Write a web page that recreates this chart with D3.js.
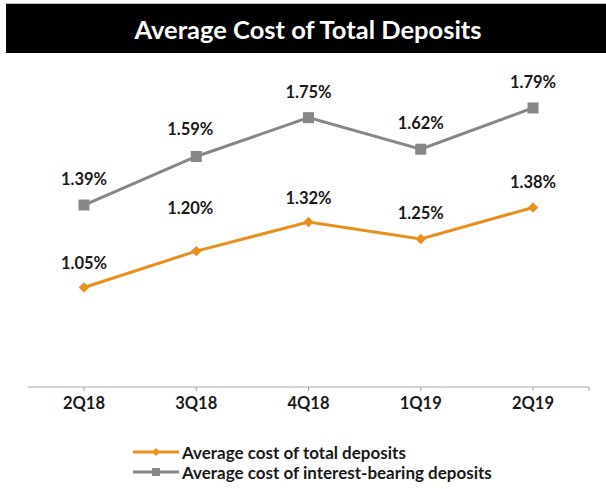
<!DOCTYPE html>
<html>
<head>
<meta charset="utf-8">
<script src="https://cdn.jsdelivr.net/npm/d3@7"></script>
<style>
  html, body { margin: 0; padding: 0; background: #fff; }
  svg { display: block; font-family: Lato, "Open Sans", sans-serif; }
</style>
</head>
<body>
<svg id="chart" width="606" height="489"></svg>
<script>
// Quarterly cost of deposits (%)
const quarters = ["2Q18", "3Q18", "4Q18", "1Q19", "2Q19"];
const totalDeposits = [1.05, 1.20, 1.32, 1.25, 1.38];
const interestBearing = [1.39, 1.59, 1.75, 1.62, 1.79];
const seriesNames = ["Average cost of total deposits", "Average cost of interest-bearing deposits"];
const chartTitle = "Average Cost of Total Deposits";

const svg = d3.select("#chart");
const W = 606;
const ink = "#1a1a1a";

// Title banner
svg.append("rect").attr("x", 5).attr("y", 3).attr("width", W - 5).attr("height", 1)
  .attr("fill", "#bdbdbd");
svg.append("rect").attr("x", 6).attr("y", 4).attr("width", W - 6).attr("height", 49)
  .attr("fill", "#000");
svg.append("text").attr("x", 308).attr("y", 29).attr("text-anchor", "middle")
  .attr("dominant-baseline", "central").attr("fill", "#fff")
  .attr("font-size", 25.5).attr("font-weight", 700).text(chartTitle);

// Scales
const x = d3.scalePoint().domain(quarters).range([84, 533]);
const y = d3.scaleLinear().domain([0.64, 2.0]).range([387, 57]);

// Category axis
const axisG = svg.append("g").attr("transform", "translate(0,387)");
axisG.append("line").attr("x1", 28).attr("x2", 589).attr("stroke", "#a6a6a6").attr("stroke-width", 1);
const step = x.step();
const tickXs = quarters.map(q => x(q)).concat([x(quarters[quarters.length - 1]) + step / 2]);
axisG.selectAll("line.tick").data(tickXs).join("line").attr("class", "tick")
  .attr("x1", d => d).attr("x2", d => d).attr("y1", 0).attr("y2", 4)
  .attr("stroke", "#a6a6a6");
axisG.selectAll("text").data(quarters).join("text")
  .attr("x", d => x(d)).attr("y", 16).attr("text-anchor", "middle")
  .attr("dominant-baseline", "central").attr("font-size", 16.5).attr("font-weight", 700)
  .attr("fill", ink).text(d => d);

const orange = "#e8901e";
const gray = "#878787";

const line = d3.line().x((d, i) => x(quarters[i])).y(d => y(d));

// Interest-bearing series (gray, squares)
svg.append("path").datum(interestBearing).attr("d", line)
  .attr("fill", "none").attr("stroke", gray).attr("stroke-width", 3);
svg.selectAll("rect.ib").data(interestBearing).join("rect").attr("class", "ib")
  .attr("x", (d, i) => x(quarters[i]) - 5.5).attr("y", d => y(d) - 5.5)
  .attr("width", 11).attr("height", 11).attr("fill", gray);

// Total deposits series (orange, diamonds)
svg.append("path").datum(totalDeposits).attr("d", line)
  .attr("fill", "none").attr("stroke", orange).attr("stroke-width", 3);
const diamond = d3.symbol().type(d3.symbolDiamond2).size(70);
svg.selectAll("path.td").data(totalDeposits).join("path").attr("class", "td")
  .attr("d", diamond)
  .attr("transform", (d, i) => `translate(${x(quarters[i])},${y(d)})`)
  .attr("fill", orange);

// Value labels above each point
const fmt = v => v.toFixed(2) + "%";
const ibLift = [26, 27, 26, 26, 26];
const tdLift = [25, 43, 24, 26, 25];
const labelX = [0, -6, 0, 0, 0];
svg.selectAll("text.ibl").data(interestBearing).join("text").attr("class", "ibl")
  .attr("x", (d, i) => x(quarters[i]) + labelX[i]).attr("y", (d, i) => y(d) - ibLift[i])
  .attr("text-anchor", "middle").attr("dominant-baseline", "central")
  .attr("font-size", 16.5).attr("font-weight", 700).attr("fill", ink).text(fmt);
svg.selectAll("text.tdl").data(totalDeposits).join("text").attr("class", "tdl")
  .attr("x", (d, i) => x(quarters[i]) + labelX[i]).attr("y", (d, i) => y(d) - tdLift[i])
  .attr("text-anchor", "middle").attr("dominant-baseline", "central")
  .attr("font-size", 16.5).attr("font-weight", 700).attr("fill", ink).text(fmt);

// Legend
const legend = svg.append("g");
const legendItems = [
  { name: seriesNames[0], color: orange, marker: "diamond" },
  { name: seriesNames[1], color: gray, marker: "square" }
];
legendItems.forEach((it, i) => {
  const ly = 452 + i * 20;
  legend.append("line").attr("x1", 133).attr("x2", 179).attr("y1", ly).attr("y2", ly)
    .attr("stroke", it.color).attr("stroke-width", 3);
  if (it.marker === "diamond") {
    legend.append("path").attr("d", d3.symbol().type(d3.symbolDiamond2).size(40))
      .attr("transform", `translate(156,${ly})`).attr("fill", it.color);
  } else {
    legend.append("rect").attr("x", 152).attr("y", ly - 4).attr("width", 8).attr("height", 8)
      .attr("fill", it.color);
  }
  legend.append("text").attr("x", 182).attr("y", ly).attr("dominant-baseline", "central")
    .attr("font-size", 17).attr("font-weight", 700).attr("fill", ink).text(it.name);
});
</script>
</body>
</html>
